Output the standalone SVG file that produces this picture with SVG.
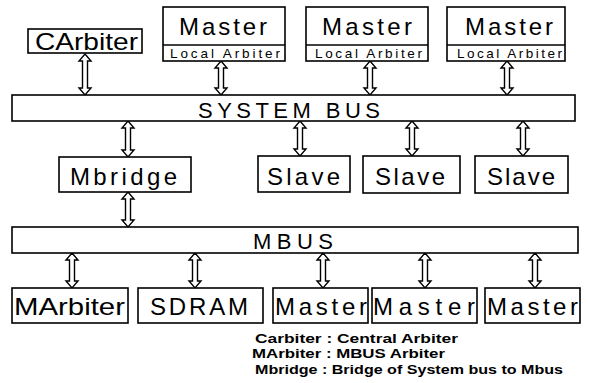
<svg xmlns="http://www.w3.org/2000/svg" width="590" height="383" viewBox="0 0 590 383">
<style>
.box{fill:#fff;stroke:#000;stroke-width:1.6}
.t{font-family:"Liberation Sans",Arial,sans-serif;fill:#000}
.big{font-size:24px}
.bus{font-size:22px}
.sm{font-size:13.5px}
.leg{font-family:"Liberation Sans",Arial,sans-serif;font-weight:700;font-size:12px;fill:#000}
.arr{fill:#fff;stroke:#000;stroke-width:1.4;stroke-linejoin:miter}
</style>
<rect width="590" height="383" fill="#fff"/>
<g id="connectors">
<path class="arr" d="M85 54 L91 61 L87.5 61 L87.5 88 L91 88 L85 95 L79 88 L82.5 88 L82.5 61 L79 61 Z"/>
<path class="arr" d="M221 61 L227 68 L223.5 68 L223.5 88 L227 88 L221 95 L215 88 L218.5 88 L218.5 68 L215 68 Z"/>
<path class="arr" d="M370 61 L376 68 L372.5 68 L372.5 88 L376 88 L370 95 L364 88 L367.5 88 L367.5 68 L364 68 Z"/>
<path class="arr" d="M507 61 L513 68 L509.5 68 L509.5 88 L513 88 L507 95 L501 88 L504.5 88 L504.5 68 L501 68 Z"/>
<path class="arr" d="M128 121 L134 128 L130.5 128 L130.5 150 L134 150 L128 157 L122 150 L125.5 150 L125.5 128 L122 128 Z"/>
<path class="arr" d="M128 192 L134 199 L130.5 199 L130.5 220 L134 220 L128 227 L122 220 L125.5 220 L125.5 199 L122 199 Z"/>
<path class="arr" d="M300 121 L306 128 L302.5 128 L302.5 149 L306 149 L300 156 L294 149 L297.5 149 L297.5 128 L294 128 Z"/>
<path class="arr" d="M412 121 L418 128 L414.5 128 L414.5 149 L418 149 L412 156 L406 149 L409.5 149 L409.5 128 L406 128 Z"/>
<path class="arr" d="M523 121 L529 128 L525.5 128 L525.5 149 L529 149 L523 156 L517 149 L520.5 149 L520.5 128 L517 128 Z"/>
<path class="arr" d="M72 253 L78 260 L74.5 260 L74.5 281 L78 281 L72 288 L66 281 L69.5 281 L69.5 260 L66 260 Z"/>
<path class="arr" d="M195 253 L201 260 L197.5 260 L197.5 281 L201 281 L195 288 L189 281 L192.5 281 L192.5 260 L189 260 Z"/>
<path class="arr" d="M323 253 L329 260 L325.5 260 L325.5 281 L329 281 L323 288 L317 281 L320.5 281 L320.5 260 L317 260 Z"/>
<path class="arr" d="M425 253 L431 260 L427.5 260 L427.5 281 L431 281 L425 288 L419 281 L422.5 281 L422.5 260 L419 260 Z"/>
<path class="arr" d="M535 253 L541 260 L537.5 260 L537.5 281 L541 281 L535 288 L529 281 L532.5 281 L532.5 260 L529 260 Z"/>
</g>
<g id="carbiter"><rect class="box" x="28" y="29" width="114" height="24"/><text class="t big" x="35" y="50" textLength="103" lengthAdjust="spacingAndGlyphs">CArbiter</text></g>
<g id="master1"><rect class="box" x="163" y="7" width="122" height="54"/><line x1="163" y1="45" x2="285" y2="45" stroke="#000" stroke-width="1.6"/><text class="t big" x="179" y="35" textLength="88" lengthAdjust="spacing">Master</text><text class="t sm" x="170" y="58" textLength="110" lengthAdjust="spacing">Local Arbiter</text></g>
<g id="master2"><rect class="box" x="306" y="7" width="122" height="54"/><line x1="306" y1="45" x2="428" y2="45" stroke="#000" stroke-width="1.6"/><text class="t big" x="322" y="35" textLength="90" lengthAdjust="spacing">Master</text><text class="t sm" x="315" y="58" textLength="107" lengthAdjust="spacing">Local Arbiter</text></g>
<g id="master3"><rect class="box" x="447" y="7" width="118" height="54"/><line x1="447" y1="45" x2="565" y2="45" stroke="#000" stroke-width="1.6"/><text class="t big" x="465" y="35" textLength="88" lengthAdjust="spacing">Master</text><text class="t sm" x="457" y="58" textLength="105" lengthAdjust="spacing">Local Arbiter</text></g>
<g id="systembus"><rect class="box" x="12" y="95" width="563" height="26"/><text class="t bus" x="198" y="118" textLength="182" lengthAdjust="spacing">SYSTEM BUS</text></g>
<g id="mbridge"><rect class="box" x="59" y="157" width="132" height="35"/><text class="t big" x="70" y="185" textLength="107" lengthAdjust="spacing">Mbridge</text></g>
<g id="slave1"><rect class="box" x="258" y="156" width="92" height="36"/><text class="t big" x="267" y="185" textLength="73" lengthAdjust="spacing">Slave</text></g>
<g id="slave2"><rect class="box" x="363" y="156" width="97" height="37"/><text class="t big" x="375" y="185" textLength="70" lengthAdjust="spacing">Slave</text></g>
<g id="slave3"><rect class="box" x="475" y="156" width="93" height="37"/><text class="t big" x="487" y="185" textLength="68" lengthAdjust="spacing">Slave</text></g>
<g id="mbus"><rect class="box" x="12" y="227" width="566" height="26"/><text class="t bus" x="253" y="249" textLength="80" lengthAdjust="spacing">MBUS</text></g>
<g id="marbiter"><rect class="box" x="12" y="288" width="116" height="35"/><text class="t big" x="14" y="315" textLength="111" lengthAdjust="spacingAndGlyphs">MArbiter</text></g>
<g id="sdram"><rect class="box" x="138" y="288" width="125" height="35"/><text class="t big" x="150" y="315" textLength="98" lengthAdjust="spacing">SDRAM</text></g>
<g id="mastera"><rect class="box" x="273" y="288" width="95" height="35"/><text class="t big" x="275" y="315" textLength="92" lengthAdjust="spacing">Master</text></g>
<g id="masterb"><rect class="box" x="372" y="288" width="105" height="35"/><text class="t big" x="373" y="315" textLength="102" lengthAdjust="spacing">Master</text></g>
<g id="masterc"><rect class="box" x="485" y="288" width="95" height="35"/><text class="t big" x="487" y="315" textLength="91" lengthAdjust="spacing">Master</text></g>
<g id="legend">
<text class="leg" x="255" y="343" textLength="203" lengthAdjust="spacingAndGlyphs">Carbiter : Central Arbiter</text>
<text class="leg" x="252" y="358" textLength="193" lengthAdjust="spacingAndGlyphs">MArbiter : MBUS Arbiter</text>
<text class="leg" x="255" y="374" textLength="308" lengthAdjust="spacingAndGlyphs">Mbridge : Bridge of System bus to Mbus</text>
</g>
</svg>
